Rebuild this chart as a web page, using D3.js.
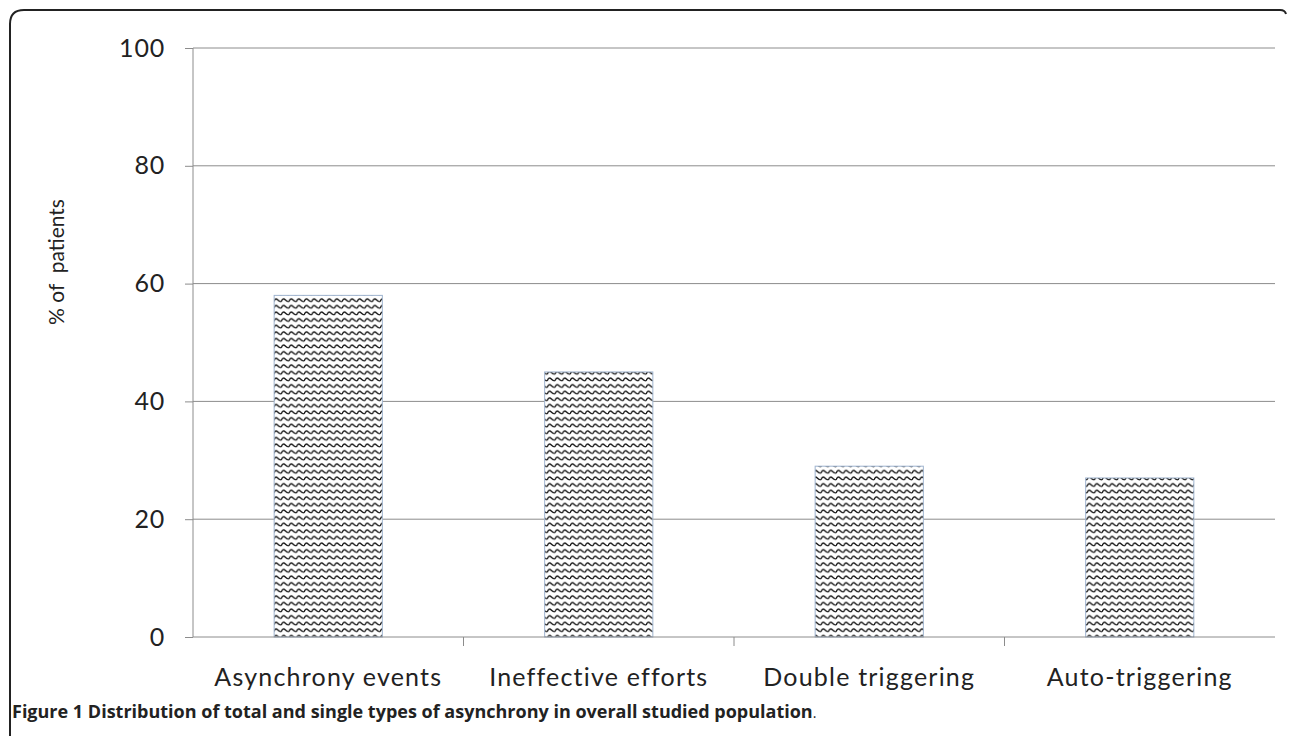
<!DOCTYPE html>
<html><head><meta charset="utf-8">
<script src="https://cdn.jsdelivr.net/npm/d3@7"></script>
<style>body{margin:0;background:#fff}svg{display:block}</style>
</head><body>
<script>
const categories = ["Asynchrony events","Ineffective efforts","Double triggering","Auto-triggering"];
const values = [58, 45, 29, 27];
const yTicks = [0, 20, 40, 60, 80, 100];
const yTitle = "% of  patients";
const captionBold = "Figure 1";
const captionText = " Distribution of total and single types of asynchrony in overall studied population";

const W = 1290, H = 736;
const svg = d3.select("body").append("svg").attr("width", W).attr("height", H);
const FONT = "Lato, 'Open Sans', sans-serif";

const defs = svg.append("defs");
const pw = 7.6, ph = 6.6;
const pat = defs.append("pattern").attr("id","wave").attr("patternUnits","userSpaceOnUse")
  .attr("width", pw).attr("height", ph);
pat.append("rect").attr("width",pw).attr("height",ph).attr("fill","#fff");
pat.append("path").attr("d",`M0,4.6 Q${pw/4},0.4 ${pw/2},2.5 T${pw},4.6`).attr("fill","none")
  .attr("stroke","#111").attr("stroke-width",1.35);

// frame
svg.append("path")
  .attr("d", `M10,740 L10,24 Q10,10 24,10 L1280,10 Q1285,10 1286,14`)
  .attr("fill","none").attr("stroke","#222").attr("stroke-width",2);

const x0 = 193, x1 = 1275, yTop = 48, yBot = 637;
const x = d3.scaleBand().domain(categories).range([x0, x1]).paddingInner(0.6).paddingOuter(0.3);
const y = d3.scaleLinear().domain([0, 100]).range([yBot, yTop]);

// gridlines
svg.append("g").selectAll("line").data(yTicks.filter(d=>d>0)).join("line")
  .attr("x1", x0).attr("x2", x1).attr("y1", d=>y(d)).attr("y2", d=>y(d))
  .attr("stroke","#8c8c8c").attr("stroke-width",1);

// bars
svg.append("g").selectAll("rect").data(values).join("rect")
  .attr("x", (d,i)=>x(categories[i])).attr("width", x.bandwidth())
  .attr("y", d=>y(d)).attr("height", d=>yBot - y(d))
  .attr("fill","url(#wave)").attr("stroke","#9fb4cf").attr("stroke-width",1);

// y axis
const yAxis = d3.axisLeft(y).tickValues(yTicks).tickSize(8).tickPadding(20);
const gy = svg.append("g").attr("transform",`translate(${x0},0)`).call(yAxis);
gy.select(".domain").attr("stroke","#8c8c8c").attr("d", `M0,${yTop}V${yBot}`);
gy.selectAll(".tick line").attr("stroke","#8c8c8c");
gy.selectAll(".tick text").attr("font-family",FONT)
  .attr("font-size", 25).attr("letter-spacing", 0.8).attr("fill","#222");

// x axis
const xAxis = d3.axisBottom(x).tickSize(0).tickPadding(31);
const gx = svg.append("g").attr("transform",`translate(0,${yBot})`).call(xAxis);
gx.select(".domain").attr("stroke","#8c8c8c").attr("d", `M${x0},0H${x1}`);
gx.selectAll(".tick text").attr("font-family",FONT)
  .attr("font-size", 25).attr("letter-spacing", 1.2).attr("fill","#222");
// category separators
const step = x.step();
const seps = categories.slice(1).map((c,i)=>x(c) - x.paddingInner()*step/2);
gx.append("g").selectAll("line").data(seps).join("line")
  .attr("x1", d=>d).attr("x2", d=>d).attr("y1",0).attr("y2",9).attr("stroke","#8c8c8c");

// y title
svg.append("text").attr("transform", `translate(64,262) rotate(-90)`)
  .attr("text-anchor","middle").attr("font-family",FONT)
  .attr("font-size", 21).attr("fill","#222").style("white-space","pre").text(yTitle);

// caption
const cap = svg.append("text").attr("x", 12).attr("y", 718)
  .attr("font-family","'Open Sans', sans-serif").attr("font-size", 18).attr("fill","#222");
cap.append("tspan").attr("font-weight","bold").text(captionBold);
cap.append("tspan").attr("font-weight","bold").text(captionText);
cap.append("tspan").attr("font-size", 14).text(".");
</script>
</body></html>
